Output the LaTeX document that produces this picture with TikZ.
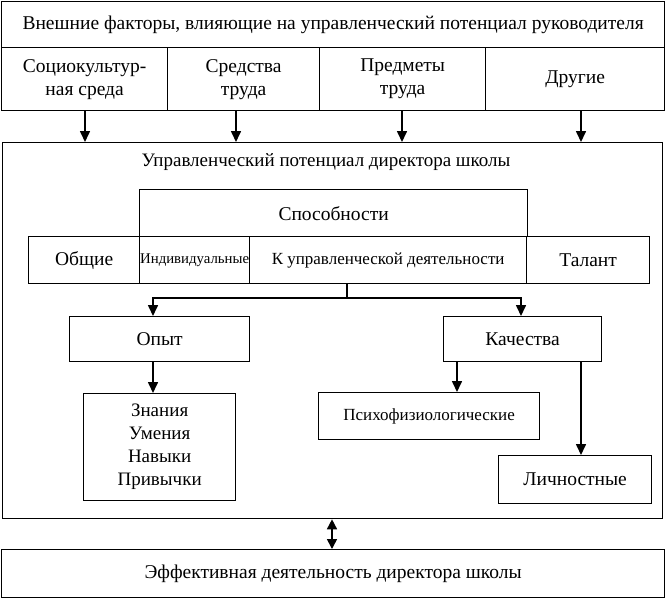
\documentclass[tikz,border=0pt]{standalone}
\usepackage{fontspec}
\setmainfont{Liberation Serif}
\usetikzlibrary{arrows.meta}
\begin{document}
\begin{tikzpicture}[x=1pt,y=-1pt,
  box/.style={draw, line width=1.3pt, inner sep=0pt, anchor=north west, align=center,
    font=\fontsize{19.5}{23}\selectfont},
  arr/.style={line width=1.6pt, -{Triangle[length=11pt,width=10pt]}},
  lnk/.style={line width=1.6pt},
  txt/.style={inner sep=0pt, font=\fontsize{19}{23}\selectfont}]
\useasboundingbox (0,0) rectangle (665,598);
% top
\node[box, minimum width=663pt, minimum height=46pt] (ext) at (1,1) {Внешние факторы, влияющие на управленческий потенциал руководителя};
\node[box, minimum width=166pt, minimum height=63pt] (f1) at (1,47) {Социокультур-\\ная среда};
\node[box, minimum width=152pt, minimum height=63pt] (f2) at (167,47) {Средства\\труда};
\node[box, minimum width=166pt, minimum height=63pt] (f3) at (319,47) {Предметы\\труда};
\node[box, minimum width=179pt, minimum height=63pt] (f4) at (485,47) {Другие};
% main
\node[box, minimum width=660pt, minimum height=376pt] (main) at (2,142) {};
\node[txt] (title) at (326,162) {Управленческий потенциал директора школы};
\coordinate (a1) at (85,142);
\coordinate (a2) at (236,142);
\coordinate (a3) at (402,142);
\coordinate (a4) at (581,142);
\draw[arr] (f1.south -| a1) -- (a1);
\draw[arr] (f2.south -| a2) -- (a2);
\draw[arr] (f3.south -| a3) -- (a3);
\draw[arr] (f4.south -| a4) -- (a4);
% abilities
\node[box, minimum width=388pt, minimum height=47pt] (spos) at (139,189) {Способности};
\node[box, minimum width=111pt, minimum height=47pt] (obsh) at (28,236) {Общие};
\node[box, minimum width=110pt, minimum height=47pt, font=\fontsize{14.8}{17}\selectfont] (ind) at (139,236) {Индивидуальные};
\node[box, minimum width=277pt, minimum height=47pt, font=\fontsize{17}{20}\selectfont] (kupr) at (249,236) {К управленческой деятельности};
\node[box, minimum width=123pt, minimum height=47pt] (tal) at (526,236) {Талант};
% experience / qualities
\node[box, minimum width=180pt, minimum height=45pt] (opyt) at (69,316) {Опыт};
\node[box, minimum width=158pt, minimum height=45pt] (kach) at (443,316) {Качества};
\coordinate (br) at (347,298);
\draw[lnk] (kupr.south -| br) -- (br);
\draw[arr] (br) -| (opyt.north -| 153,0);
\draw[arr] (br) -| (kach.north -| 521,0);
\node[box, minimum width=152pt, minimum height=107pt, font=\fontsize{19}{23}\selectfont] (zn) at (83,393) {Знания\\Умения\\Навыки\\Привычки};
\node[box, minimum width=221pt, minimum height=47pt, font=\fontsize{17}{20}\selectfont] (psy) at (318,392) {Психофизиологические};
\node[box, minimum width=153pt, minimum height=48pt] (lich) at (498,455) {Личностные};
\draw[arr] (opyt.south -| 153,0) -- (zn.north -| 153,0);
\draw[arr] (kach.south -| 457,0) -- (psy.north -| 457,0);
\draw[arr] (kach.south -| 581,0) -- (lich.north -| 581,0);
% bottom
\node[box, minimum width=663pt, minimum height=48pt] (eff) at (1,549) {Эффективная деятельность директора школы};
\draw[line width=1.6pt, {Triangle[length=10pt,width=10pt]}-{Triangle[length=10pt,width=10pt]}] (main.south -| 332,0) -- (eff.north -| 332,0);
\end{tikzpicture}
\end{document}
